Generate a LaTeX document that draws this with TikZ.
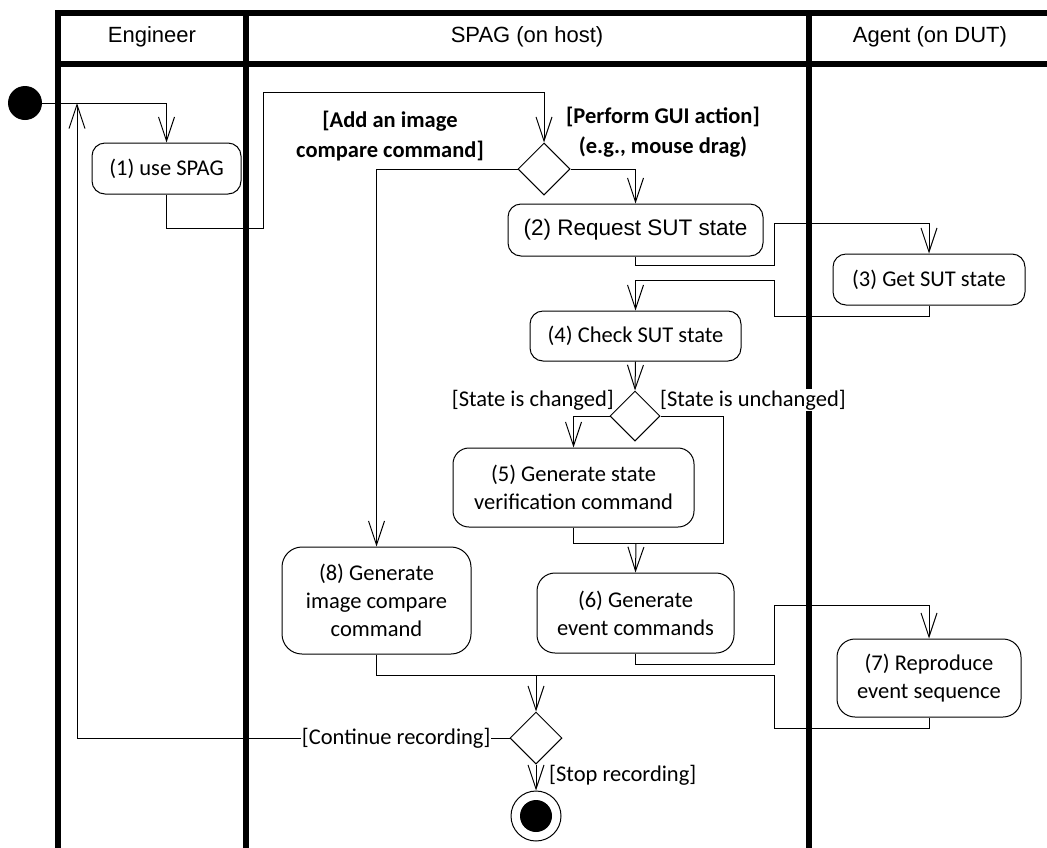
\documentclass[tikz,border=0pt]{standalone}
\usepackage{fontspec}
\setmainfont{Carlito}
\newfontfamily\arialf{Liberation Sans}
\usetikzlibrary{arrows.meta,shapes.geometric}
\begin{document}
\begin{tikzpicture}[x=1pt,y=-1pt,
  lane/.style={line width=6pt},
  act/.style={draw,line width=1pt,rounded corners=13pt,align=center,inner sep=0pt,font=\fontsize{22.5}{28}\selectfont},
  dec/.style={draw,diamond,line width=1pt,inner sep=0pt,minimum width=52pt,minimum height=52pt},
  flow/.style={line width=1pt},
  arr/.style={flow,-{Straight Barb[length=24pt,width=16pt]}},
  lbl/.style={font=\fontsize{22.5}{28}\selectfont,inner sep=1pt},
  blbl/.style={font=\bfseries\fontsize{22.5}{29.5}\selectfont,align=center,inner sep=0pt},
  hdr/.style={font=\arialf\fontsize{22}{26}\selectfont}
]
\useasboundingbox (0,0) rectangle (1047,847);
% swimlanes
\draw[lane] (58,850) -- (58,12.5) -- (1050,12.5);
\draw[lane] (58,63.8) -- (1050,63.8);
\draw[lane] (246.3,12.5) -- (246.3,850);
\draw[lane] (808.5,12.5) -- (808.5,850);
\node[hdr] (h1) at (152,37) {Engineer};
\node[hdr] (h2) at (527,37) {SPAG (on host)};
\node[hdr] (h3) at (930,37) {Agent (on DUT)};

% nodes
\node[circle,fill,minimum size=34pt,inner sep=0pt] (init) at (25,103) {};
\node[act,minimum width=149pt,minimum height=51pt] (n1) at (166.5,168.5) {(1) use SPAG};
\node[dec] (d1) at (544,169) {};
\node[act,minimum width=255pt,minimum height=52pt,font=\arialf\fontsize{22.5}{28}\selectfont] (n2) at (635.5,230) {(2) Request SUT state};
\node[act,minimum width=192pt,minimum height=51pt] (n3) at (929,279.5) {(3) Get SUT state};
\node[act,minimum width=211pt,minimum height=50pt] (n4) at (635.5,336) {(4) Check SUT state};
\node[dec,minimum width=50pt,minimum height=50pt] (d2) at (635,416) {};
\node[act,minimum width=241pt,minimum height=79pt,rounded corners=16pt] (n5) at (573.5,487.5) {(5) Generate state\\verification command};
\node[act,minimum width=197pt,minimum height=80pt,rounded corners=18pt] (n6) at (635.5,613) {(6) Generate\\event commands};
\node[act,minimum width=184pt,minimum height=78pt,rounded corners=18pt] (n7) at (929,678) {(7) Reproduce\\event sequence};
\node[act,minimum width=189pt,minimum height=107pt,rounded corners=20pt] (n8) at (376.5,600.5) {(8) Generate\\image compare\\command};
\node[dec] (d3) at (536,738) {};
\node[circle,draw,line width=1pt,minimum size=50pt,inner sep=0pt] (fin) at (536,816) {};
\node[circle,fill,minimum size=32pt,inner sep=0pt] (finin) at (fin.center) {};

% guard labels
\node[blbl] (g1) at (390,136) {[Add an image\\compare command]};
\node[blbl] (g2) at (663,132) {[Perform GUI action]\\(e.g., mouse drag)};
\node[lbl,anchor=east] (g3) at (615,400) {[State is changed]};
\node[lbl,anchor=west,fill=white] (g4) at (659,400) {[State is unchanged]};
\node[lbl,anchor=west] (g5) at (548,775) {[Stop recording]};

% connectors
\coordinate (loopend) at (77,103);
\coordinate (m1) at (636,543);
\coordinate (m2) at (536,675);
\draw[arr] (init) -| (n1);
\draw[arr] (n1.south) |- (263,228) -- (263,92) -| (d1.north);
\draw[arr] (d1.east) -| (n2.north);
\draw[arr] (d1.west) -| (n8.north);
\draw[arr] (n2.south) |- (774,265) -- (774,223) -| (n3.north);
\draw[arr] (n3.south) |- (774,316) -- (774,280) -| (n4.north);
\draw[arr] (n4.south) -- (d2.north);
\draw[arr] (d2.west) -| (n5.north);
\draw[flow] (n5.south) |- (m1);
\draw[flow] (d2.east) -| (723,543) -- (m1);
\draw[arr] (m1) -- (n6.north);
\draw[arr] (n6.south) |- (774,664) -- (774,605) -| (n7.north);
\draw[flow] (n7.south) |- (774,728) -- (774,675) -- (m2);
\draw[flow] (n8.south) |- (m2);
\draw[arr] (m2) -- (d3.north);
\draw[arr] (d3.west) -- node[lbl,fill=white,pos=0.262] (g6) {[Continue recording]} (77,738) -- (loopend);
\draw[arr] (d3.south) -- (fin.north);
\end{tikzpicture}
\end{document}
